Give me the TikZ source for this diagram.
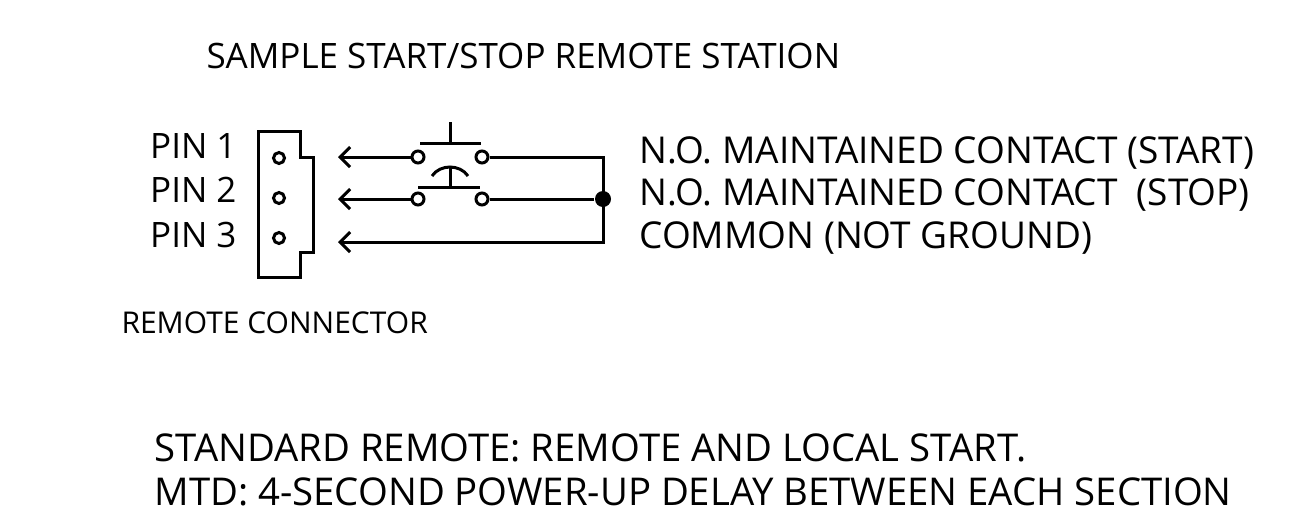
\documentclass[tikz,border=0pt]{standalone}
\usepackage{fontspec}
\setmainfont{Open Sans}
\usetikzlibrary{arrows.meta}

\begin{document}
\begin{tikzpicture}[x=1pt,y=-1pt,line width=3pt,
  lead/.style={{Straight Barb[length=10pt,width=20pt,line width=3pt]}-},
  hole/.style={circle,draw,line width=3pt,inner sep=0pt,minimum size=11pt},
  contact/.style={circle,draw,line width=3pt,inner sep=0pt,minimum size=12pt},
  txt/.style={inner sep=0pt,font=\fontsize{35}{38}\selectfont},
  lbltxt/.style={inner sep=0pt,font=\fontsize{37}{40}\selectfont},
  bigtxt/.style={inner sep=0pt,font=\fontsize{38.3}{41}\selectfont}]
  \useasboundingbox (0,0) rectangle (1308,528);
  % title
  \node[txt,anchor=base west] (title) at (205,68) {SAMPLE START/STOP REMOTE STATION};
  % remote connector body
  \draw (258,131) -- (300,131) -- (300,157) -- (313,157) -- (313,252)
    -- (300,252) -- (300,277) -- (258,277) -- cycle;
  \node[hole] (h1) at (279,158) {};
  \node[hole] (h2) at (279,198) {};
  \node[hole] (h3) at (279,238) {};
  \node[txt,anchor=base east] (pin1) at (238,158) {PIN 1};
  \node[txt,anchor=base east] (pin2) at (238,202) {PIN 2};
  \node[txt,anchor=base east] (pin3) at (238,247) {PIN 3};
  \node[txt,anchor=base west,font=\fontsize{30}{33}\selectfont] (conn) at (120,333) {REMOTE CONNECTOR};
  % wire ends and switch contacts
  \coordinate (a1) at (338,157);
  \coordinate (a2) at (338,199);
  \coordinate (a3) at (338,242);
  \node[contact] (s1l) at (418,157) {};
  \node[contact] (s1r) at (482,157) {};
  \node[contact] (s2l) at (418,199) {};
  \node[contact] (s2r) at (482,199) {};
  \coordinate (c1) at (603,157);
  \coordinate (c3) at (603,242);
  \node[circle,fill,inner sep=0pt,minimum size=16pt] (dot) at (603,199) {};
  % wiring
  \draw[lead] (a1) -- (s1l);
  \draw[lead] (a2) -- (s2l);
  \draw[lead] (a3) -- (c3) -- (c1) -- (s1r);
  \draw (s2r) -- (dot);
  % start button
  \draw (420,143) -- (481,143);
  \draw (450,122) -- (450,143);
  % stop button
  \draw (418,187) -- (480,187);
  \draw (450,187) -- (450,168);
  \draw (432,176) .. controls (440,164) and (460,164) .. (468,176);
  % contact labels
  \node[lbltxt,anchor=base west] (no1) at (638,163) {N.O. MAINTAINED CONTACT (START)};
  \node[lbltxt,anchor=base west] (no2) at (638,205) {N.O. MAINTAINED CONTACT\ \ (STOP)};
  \node[lbltxt,anchor=base west] (com) at (638,248) {COMMON (NOT GROUND)};
  % notes
  \node[bigtxt,anchor=base west] (note1) at (153,461) {STANDARD REMOTE: REMOTE AND LOCAL START.};
  \node[bigtxt,anchor=base west] (note2) at (153,505) {MTD: 4-SECOND POWER-UP DELAY BETWEEN EACH SECTION};
\end{tikzpicture}
\end{document}
